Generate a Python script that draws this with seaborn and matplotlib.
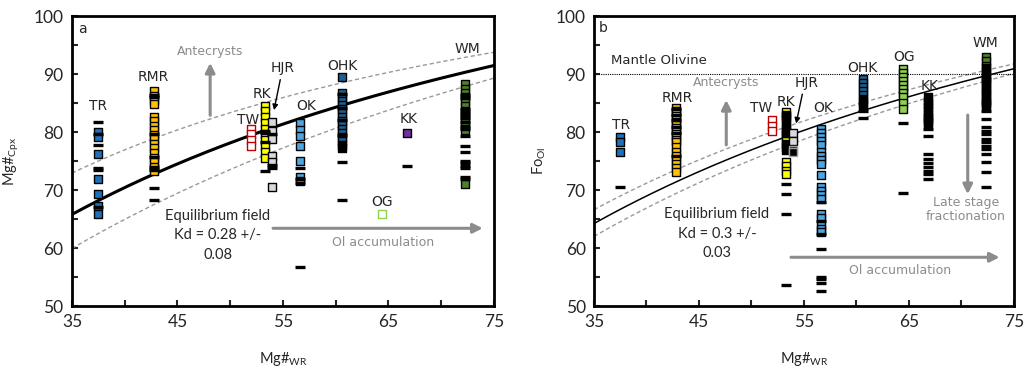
import numpy as np
import pandas as pd
import matplotlib
matplotlib.use('Agg')
import matplotlib.pyplot as plt
import seaborn as sns

# localities and their whole rock Mg#
sites = ['TR', 'RMR', 'TW', 'RK', 'HJR', 'OK', 'OHK', 'OG', 'KK', 'WM']
mg_wr = [37.5, 42.8, 52.0, 53.3, 54.0, 56.6, 60.6, 64.4, 66.8, 72.3]

# panel a: clinopyroxene Mg#
cpx_sq = {
    'TR': [80.0, 79.1, 76.2, 71.9, 69.3, 67.3, 65.8],
    'RMR': [87.0, 86.2, 85.5, 84.9, 82.6, 81.9, 81.1, 80.3, 79.5, 78.8, 78.0, 77.2,
            76.4, 75.6, 74.8, 74.0, 73.3],
    'TW': [80.5, 79.6, 78.6, 77.6],
    'RK': [84.5, 83.6, 82.6, 81.6, 80.6, 79.6, 78.6, 77.6, 76.6, 75.6],
    'HJR': [81.8, 80.2, 78.8, 75.9, 74.8, 70.5],
    'OK': [81.6, 80.4, 79.3, 77.6, 75.0, 72.3, 71.6],
    'OHK': [89.4, 86.8, 86.1, 85.4, 84.7, 84.0, 83.3, 82.6, 81.9, 81.2, 80.5, 79.8,
            79.1, 78.4],
    'OG': [65.8],
    'KK': [79.8],
    'WM': [88.2, 87.5, 86.8, 86.0, 85.2, 84.4, 83.6, 82.8, 82.0, 81.2, 80.4, 71.1],
}
cpx_dark = {
    'OHK': [77.8, 77.3],
}
cpx_bar = {
    'TR': [81.7, 79.6, 77.7, 73.8, 73.4, 67.1],
    'RMR': [86.4, 86.0, 79.6, 75.7, 74.0, 73.5, 70.4, 68.2],
    'RK': [80.1, 79.8, 78.3, 73.3],
    'HJR': [79.6, 74.3, 73.8],
    'OK': [73.8, 71.9, 71.2, 56.8],
    'OHK': [86.5, 84.2, 82.0, 79.5, 74.8, 68.3],
    'KK': [74.1],
    'WM': [86.3, 85.8, 84.0, 83.5, 83.0, 82.5, 81.8, 81.0, 80.6, 79.3, 77.6, 76.5,
           75.0, 74.6, 74.2, 73.8, 72.3, 71.9],
}

# panel b: olivine Fo
ol_sq = {
    'TR': [79.1, 78.2, 76.5],
    'RMR': [84.2, 83.7, 83.2, 82.7, 82.2, 81.7, 81.2, 80.7, 80.2, 79.7, 79.2, 78.7,
            78.2, 77.5, 76.6, 75.9, 75.2, 74.5, 73.8, 73.1],
    'TW': [82.0, 81.1, 80.2],
    'RK': [83.5, 82.8, 79.3, 78.4, 74.9, 74.2, 73.3, 72.7],
    'HJR': [79.8, 78.4],
    'OK': [80.5, 79.8, 79.1, 78.4, 77.7, 76.5, 75.9, 75.2, 74.5, 72.6, 70.5, 69.9,
           69.2, 68.5, 65.8, 65.1, 63.9, 63.2, 62.7],
    'OHK': [89.2, 88.5, 87.8, 87.1, 86.4],
    'OG': [90.9, 90.2, 89.5, 88.8, 88.1, 87.4, 86.7, 86.0, 85.0, 84.0],
    'KK': [85.3, 83.6, 82.2, 81.7],
    'WM': [93.0, 92.2, 91.4, 90.5, 89.8, 89.0, 88.2, 87.5, 86.8, 86.0, 85.2],
}
ol_dark = {
    'RK': [83.0, 82.2, 81.4, 80.7, 80.0, 79.8, 78.0, 77.4, 76.9],
    'HJR': [76.9, 76.6],
    'OHK': [85.7, 85.0, 84.5],
    'KK': [86.0, 84.8, 84.3, 83.0, 82.6, 81.4],
    'WM': [91.0, 89.5, 88.6, 87.0, 85.6, 84.8, 84.4],
}
ol_bar = {
    'TR': [70.5],
    'RMR': [83.9, 83.0, 82.0, 80.9, 79.9, 75.9],
    'RK': [71.1, 69.3, 65.9, 53.6],
    'OK': [68.0, 64.6, 62.5, 59.8, 55.0, 54.6, 53.9, 52.6],
    'OHK': [83.6, 82.5],
    'OG': [81.5, 69.5],
    'KK': [80.5, 79.3, 76.2, 75.3, 74.7, 74.0, 73.3, 72.8, 71.9],
    'WM': [83.6, 82.2, 80.8, 80.1, 79.6, 78.8, 78.3, 77.6, 77.1, 76.2, 74.8, 73.1, 70.5],
}

# equilibrium Kd (central, low, high)
kd_cpx = [0.28, 0.20, 0.36]
kd_ol = [0.30, 0.27, 0.33]

fill = {'TR': '#1F70B8', 'RMR': '#FFC000', 'TW': 'white', 'RK': '#FFFF00',
        'HJR': '#D9D9D9', 'OK': '#4DA6DF', 'OHK': '#1F5F8F', 'OG': '#92D050',
        'KK': '#7030A0', 'WM': '#4E7F2A'}

sns.set_style('ticks')
plt.rcParams['font.family'] = ['DejaVu Sans']
plt.rcParams['mathtext.default'] = 'regular'
GREY = '#8C8C8C'
NUMFONT = 'Lato'


def curve(kd):
    mw = np.linspace(35, 75, 200)
    return mw, 100 / (1 + kd * (100 / mw - 1))


def draw(ax, sq, dark, bar, kd, lw_main, hollow):
    mw, c = curve(kd[0])
    ax.plot(mw, c, color='black', lw=lw_main, zorder=2)
    for k in kd[1:]:
        mw, c = curve(k)
        ax.plot(mw, c, color='#999999', lw=1.0, ls=(0, (3, 2)), zorder=2)
    for s, x in zip(sites, mg_wr):
        if s in sq:
            ys = sq[s]
            fc = fill[s]
            ec = 'black'
            if s in hollow:
                fc = 'white'
                ec = hollow[s]
            sns.scatterplot(x=[x] * len(ys), y=ys, ax=ax, marker='s', s=40,
                            color=fc, edgecolor=ec, linewidth=1.0, zorder=3)
        if s in dark:
            ys = dark[s]
            ec = '#A0A0A0' if s == 'HJR' else 'black'
            sns.scatterplot(x=[x] * len(ys), y=ys, ax=ax, marker='s', s=40,
                            color='black', edgecolor=ec, linewidth=1.0, zorder=3)
        if s in bar:
            ys = bar[s]
            sns.scatterplot(x=[x] * len(ys), y=ys, ax=ax, marker='_', s=55,
                            color='black', linewidth=2.4, zorder=4)
    ax.set_xlim(35, 75)
    ax.set_ylim(50, 100)
    ax.set_xticks([35, 45, 55, 65, 75])
    ax.set_xticks([40, 50, 60, 70], minor=True)
    ax.set_yticks([50, 60, 70, 80, 90, 100])
    ax.set_yticks([55, 65, 75, 85, 95], minor=True)
    ax.tick_params(which='both', direction='in', length=4, width=1.5,
                   top=False, right=False)
    ax.tick_params(which='major', labelsize=12.5, pad=6)
    for lab in ax.get_xticklabels() + ax.get_yticklabels():
        lab.set_family(NUMFONT)
    for sp in ax.spines.values():
        sp.set_visible(True)
        sp.set_linewidth(2.0)
        sp.set_color('black')
    ax.set_xlabel('Mg#$_{WR}$', family=NUMFONT, fontsize=10.5)
    ax.xaxis.set_label_coords(0.5, -0.15)


fig = plt.figure(figsize=(10.25, 3.74), dpi=100)
ax1 = fig.add_axes([0.0702, 0.1818, 0.4117, 0.7754])
ax2 = fig.add_axes([0.5795, 0.1818, 0.4097, 0.7754])

draw(ax1, cpx_sq, cpx_dark, cpx_bar, kd_cpx, 2.2, {'TW': '#C00000', 'OG': '#92D050'})
draw(ax2, ol_sq, ol_dark, ol_bar, kd_ol, 1.1, {'TW': '#C00000'})

ax1.set_ylabel('Mg#$_{Cpx}$', family=NUMFONT, fontsize=10.5)
ax1.yaxis.set_label_coords(-0.12, 0.5)
ax2.set_ylabel('Fo$_{Ol}$', family=NUMFONT, fontsize=10.5)
ax2.yaxis.set_label_coords(-0.11, 0.5)

lab_kw = dict(fontsize=10, ha='center', va='center', zorder=5)

# panel a annotations
ax1.text(36.0, 97.8, 'a', **lab_kw)
for t, x, y in [('TR', 37.5, 84.4), ('RMR', 42.7, 89.4), ('TW', 51.7, 82.0),
                ('RK', 53.0, 86.6), ('HJR', 55.0, 91.0), ('OK', 57.2, 84.4),
                ('OHK', 60.6, 91.4), ('KK', 66.9, 82.2), ('WM', 72.5, 94.3),
                ('OG', 64.4, 68.0)]:
    ax1.text(x, y, t, **lab_kw)
ax1.annotate('', xy=(54.1, 83.3), xytext=(54.8, 89.5),
             arrowprops=dict(arrowstyle='-|>', color='black', lw=1.0, mutation_scale=8))
ax1.text(48.1, 93.8, 'Antecrysts', color=GREY, fontsize=9, ha='center', va='center')
ax1.annotate('', xy=(48.1, 92.4), xytext=(48.1, 82.4),
             arrowprops=dict(arrowstyle='-|>', color=GREY, lw=2.2, mutation_scale=14))
ax1.text(48.8, 62.2, 'Equilibrium field\nKd = 0.28 +/-\n0.08', family=NUMFONT,
         fontsize=10.5, ha='center', va='center', linespacing=1.5)
ax1.annotate('', xy=(74.2, 63.4), xytext=(53.8, 63.4),
             arrowprops=dict(arrowstyle='-|>', color=GREY, lw=2.2, mutation_scale=14))
ax1.text(64.5, 61.0, 'Ol accumulation', color=GREY, fontsize=9, ha='center', va='center')

# panel b annotations
ax2.text(35.9, 98.0, 'b', **lab_kw)
ax2.axhline(90, color='black', lw=0.8, ls=(0, (1, 1)), zorder=2)
ax2.text(36.6, 92.4, 'Mantle Olivine', fontsize=9.5, ha='left', va='center')
for t, x, y in [('TR', 37.6, 81.2), ('RMR', 42.9, 85.8), ('TW', 50.9, 84.1),
                ('RK', 53.3, 85.2), ('HJR', 55.3, 88.5), ('OK', 56.8, 84.2),
                ('OHK', 60.6, 91.1), ('OG', 64.5, 93.0), ('KK', 67.0, 88.0),
                ('WM', 72.3, 95.4)]:
    ax2.text(x, y, t, **lab_kw)
ax2.annotate('', xy=(54.2, 81.0), xytext=(54.9, 87.0),
             arrowprops=dict(arrowstyle='-|>', color='black', lw=1.0, mutation_scale=8))
ax2.text(47.6, 88.5, 'Antecrysts', color=GREY, fontsize=9, ha='center', va='center')
ax2.annotate('', xy=(47.6, 86.0), xytext=(47.6, 77.3),
             arrowprops=dict(arrowstyle='-|>', color=GREY, lw=2.2, mutation_scale=14))
ax2.text(46.7, 62.5, 'Equilibrium field\nKd = 0.3 +/-\n0.03', family=NUMFONT,
         fontsize=10.5, ha='center', va='center', linespacing=1.5)
ax2.annotate('', xy=(73.9, 58.4), xytext=(53.5, 58.4),
             arrowprops=dict(arrowstyle='-|>', color=GREY, lw=2.2, mutation_scale=14))
ax2.text(64.2, 56.2, 'Ol accumulation', color=GREY, fontsize=9, ha='center', va='center')
ax2.annotate('', xy=(70.6, 68.8), xytext=(70.6, 83.4),
             arrowprops=dict(arrowstyle='-|>', color=GREY, lw=2.2, mutation_scale=14))
ax2.text(70.4, 66.6, 'Late stage\nfractionation', color=GREY, fontsize=9,
         ha='center', va='center', linespacing=1.1)

fig.savefig('out.png', dpi=100)
